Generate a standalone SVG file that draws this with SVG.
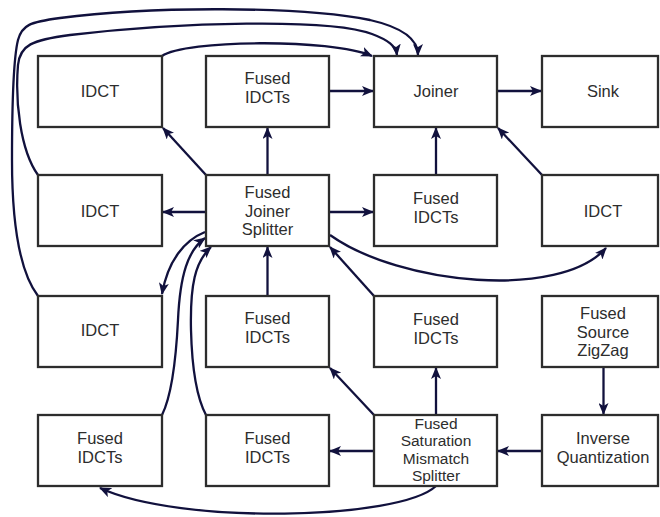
<svg xmlns="http://www.w3.org/2000/svg" width="660" height="517" viewBox="0 0 660 517">
<style>
.box{fill:#fff;stroke:#2d2d2d;stroke-width:2.3}
.lbl{font-family:"Liberation Sans",Arial,sans-serif;font-size:16.5px;fill:#2d2d2d;text-anchor:middle}
.sm{font-size:15.5px}
.edge{fill:none;stroke:#11113d;stroke-width:2.3;marker-end:url(#ah)}
</style>
<defs>
<marker id="ah" viewBox="0 0 12 10" markerWidth="12" markerHeight="10" refX="11" refY="5" orient="auto" markerUnits="userSpaceOnUse">
<path d="M0,0 L12,5 L0,10 L3,5 z" fill="#11113d"/>
</marker>
</defs>
<rect width="660" height="517" fill="#fff"/>
<g id="connectors">
<path class="edge" d="M329,91 L373,91"/>
<path class="edge" d="M497,91 L541,91"/>
<path class="edge" d="M267.5,175 L267.5,128"/>
<path class="edge" d="M206,175 L163,128"/>
<path class="edge" d="M206,212 L163,212"/>
<path class="edge" d="M329,212 L373,212"/>
<path class="edge" d="M436,175 L436,128"/>
<path class="edge" d="M542,175 L498,128"/>
<path class="edge" d="M330,235 C400,285 560,300 606,248"/>
<path class="edge" d="M205,232 C185,240 168,260 162,294"/>
<path class="edge" d="M267.5,296 L267.5,247"/>
<path class="edge" d="M374,296 L330,247"/>
<path class="edge" d="M162,415 C172,395 176,360 178,320 C180,275 188,250 205,238"/>
<path class="edge" d="M206,415 C198,400 192,370 191,330 C190,285 195,262 211,247"/>
<path class="edge" d="M436,415 L436,368"/>
<path class="edge" d="M374,415 L330,368"/>
<path class="edge" d="M374,451 L330,451"/>
<path class="edge" d="M542,451 L498,451"/>
<path class="edge" d="M603.5,367 L603.5,414"/>
<path class="edge" d="M436,486 C400,520 180,525 100,488"/>
<path class="edge" d="M162,56 C185,40 330,38 372,56"/>
<path class="edge" d="M38,175 C20,150 15,100 18,65 C20,45 32,40 70,35 C180,22 330,18 372,34 C388,40 396,46 397,55"/>
<path class="edge" d="M38,296 C22,275 12,230 12,160 C12,100 13,60 18,40 C22,25 30,22 60,18 C150,6 300,6 370,20 C405,28 418,40 418,55"/>
</g>
<g id="idct1"><rect class="box" x="38" y="56" width="124" height="71"/><text class="lbl" x="100" y="96.5">IDCT</text></g>
<g id="fidct1"><rect class="box" x="206" y="56" width="123" height="71"/><text class="lbl" x="267.5" y="84">Fused</text><text class="lbl" x="267.5" y="103">IDCTs</text></g>
<g id="joiner"><rect class="box" x="374" y="56" width="123" height="71"/><text class="lbl" x="436" y="96.5">Joiner</text></g>
<g id="sink"><rect class="box" x="542" y="56" width="116" height="71"/><text class="lbl" x="603" y="96.5">Sink</text></g>
<g id="idct2"><rect class="box" x="38" y="175" width="124" height="71"/><text class="lbl" x="100" y="217">IDCT</text></g>
<g id="fjs"><rect class="box" x="206" y="175" width="123" height="71"/><text class="lbl" x="267.5" y="198">Fused</text><text class="lbl" x="267.5" y="216.5">Joiner</text><text class="lbl" x="267.5" y="235">Splitter</text></g>
<g id="fidct2"><rect class="box" x="374" y="175" width="123" height="71"/><text class="lbl" x="436" y="204">Fused</text><text class="lbl" x="436" y="223">IDCTs</text></g>
<g id="idct3"><rect class="box" x="542" y="175" width="116" height="71"/><text class="lbl" x="603" y="217">IDCT</text></g>
<g id="idct4"><rect class="box" x="38" y="296" width="124" height="71"/><text class="lbl" x="100" y="336">IDCT</text></g>
<g id="fidct3"><rect class="box" x="206" y="296" width="123" height="71"/><text class="lbl" x="267.5" y="324">Fused</text><text class="lbl" x="267.5" y="343">IDCTs</text></g>
<g id="fidct4"><rect class="box" x="374" y="296" width="123" height="71"/><text class="lbl" x="436" y="325">Fused</text><text class="lbl" x="436" y="344">IDCTs</text></g>
<g id="fsz"><rect class="box" x="542" y="296" width="116" height="71"/><text class="lbl" x="603" y="319">Fused</text><text class="lbl" x="603" y="337.5">Source</text><text class="lbl" x="603" y="356">ZigZag</text></g>
<g id="fidct5"><rect class="box" x="38" y="415" width="124" height="71"/><text class="lbl" x="100" y="444">Fused</text><text class="lbl" x="100" y="463">IDCTs</text></g>
<g id="fidct6"><rect class="box" x="206" y="415" width="123" height="71"/><text class="lbl" x="267.5" y="444">Fused</text><text class="lbl" x="267.5" y="463">IDCTs</text></g>
<g id="fsms"><rect class="box" x="374" y="415" width="123" height="71"/><text class="lbl sm" x="436" y="429">Fused</text><text class="lbl sm" x="436" y="446.4">Saturation</text><text class="lbl sm" x="436" y="463.8">Mismatch</text><text class="lbl sm" x="436" y="481.2">Splitter</text></g>
<g id="iq"><rect class="box" x="542" y="415" width="116" height="71"/><text class="lbl" x="603" y="444">Inverse</text><text class="lbl" x="603" y="463">Quantization</text></g>
</svg>
